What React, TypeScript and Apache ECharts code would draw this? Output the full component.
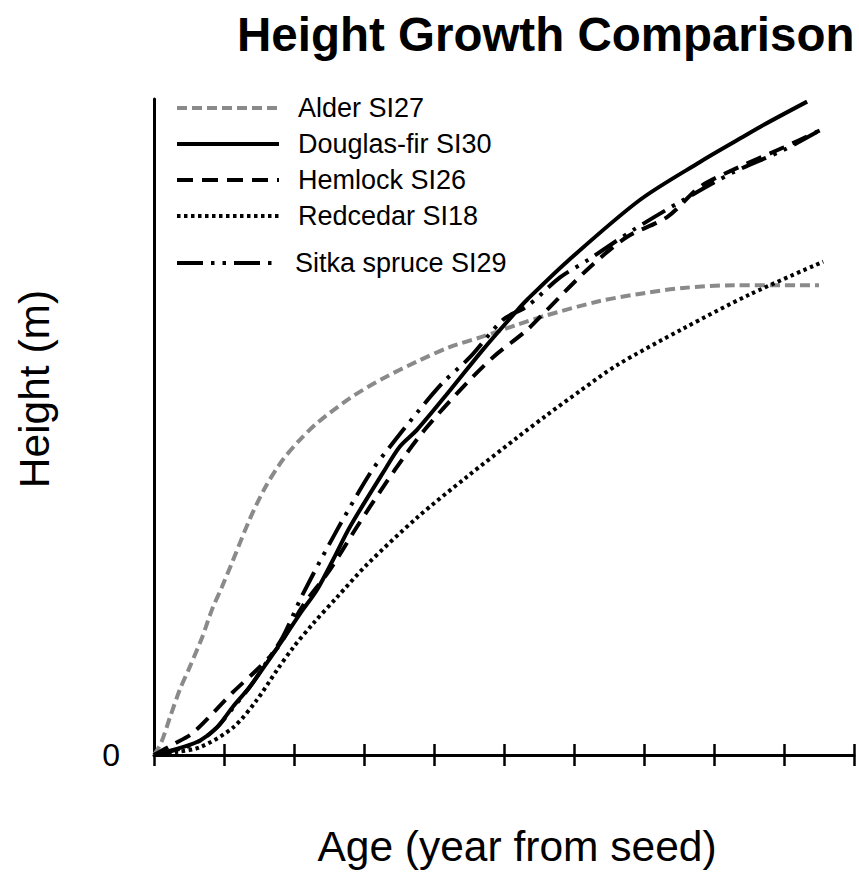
import React, { useEffect, useRef } from "react";
import * as echarts from "echarts";

const titleText = "Height Growth Comparison";
const xAxisName = "Age (year from seed)";
const yAxisName = "Height (m)";
const seriesNames = ["Alder SI27", "Douglas-fir SI30", "Hemlock SI26", "Redcedar SI18", "Sitka spruce SI29"];

const alder: number[][] = [
  [0, 0], [1, 0.9], [2.3, 2.9], [3.7, 5.0], [5.1, 6.7], [6.9, 9.0], [8.3, 11.1], [9.7, 12.8], [11.1, 14.6],
  [13.7, 18.0], [16, 20.5], [18.4, 22.5], [20.8, 24.0], [23.3, 25.3], [28, 27.2], [32.7, 28.7], [37.6, 30.0],
  [42.3, 31.1], [47, 31.9], [51.9, 32.8], [56, 33.5], [63.7, 34.6], [70, 35.2], [75.6, 35.6], [82.7, 35.8], [95, 35.8],
];
const douglasFir: number[][] = [
  [0, 0], [4.1, 0.6], [6.6, 1.1], [9, 2.1], [11.3, 3.7], [13.7, 5.2], [16.1, 7.0], [18.4, 8.8], [20.9, 10.8],
  [23.3, 12.6], [25.6, 14.9], [28, 17.4], [32.7, 21.5], [35.1, 23.5], [37.6, 24.8], [42.3, 27.8], [47, 30.9],
  [51.9, 33.9], [53.3, 34.7], [59, 37.6], [69.4, 42.3], [78, 45.2], [84.1, 47.1], [87, 48.0], [93.3, 49.8],
];
const hemlock: number[][] = [
  [0, 0], [2.7, 0.8], [5.6, 1.7], [11.3, 4.8], [14.7, 6.5], [17.7, 8.2], [21.3, 11.4], [25.1, 14.1], [29, 17.4],
  [32.7, 20.4], [36.1, 23.0], [39, 25.0], [43.7, 27.8], [48.4, 30.3], [53.3, 32.4], [56.1, 33.9], [62.3, 37.2],
  [67.6, 39.5], [73.3, 41.0], [78, 43.3], [82.7, 44.6], [89.9, 46.3], [95.1, 47.6],
];
const redcedar: number[][] = [
  [0, 0], [3, 0.2], [6.6, 0.6], [11.3, 2.1], [14.7, 4.2], [17.6, 6.5], [19.9, 8.2], [22.7, 10.0], [26.1, 12.0],
  [30.4, 14.5], [37.6, 18.1], [44.7, 21.2], [51.9, 24.2], [56.1, 25.9], [61, 27.8], [66.1, 29.7], [75.6, 32.5],
  [85.1, 35.1], [95.6, 37.6],
];
const sitkaSpruce: number[][] = [
  [0, 0], [4, 0.5], [6.6, 1.1], [9, 2.1], [11.3, 3.6], [13.7, 5.2], [16.1, 7.1], [18.4, 9.0], [21.3, 12.3],
  [26.1, 17.1], [30.9, 21.5], [33.7, 23.5], [37.6, 26.1], [41.3, 28.4], [45.1, 30.3], [49.9, 33.2], [53.3, 34.2],
  [58, 36.4], [61.9, 37.7], [68.4, 40.0], [75.6, 42.3], [82.7, 44.4], [89.9, 46.1], [95.1, 47.6],
];

const FONT = "'Liberation Sans', Arial, sans-serif";
const LW = 4;

export default function App() {
  const ref = useRef<HTMLDivElement>(null);
  useEffect(() => {
    if (!ref.current) return;
    const chart = echarts.init(ref.current, null, { renderer: "svg" });
    const mk = (name: string, data: number[][], color: string, type: any) => ({
      name,
      type: "line",
      data,
      showSymbol: false,
      symbol: "none",
      smooth: 0.3,
      lineStyle: { color, width: LW, type, cap: "butt" },
      itemStyle: { color },
      z: 3,
    });
    const legendText = {
      fontFamily: FONT,
      fontSize: 27,
      color: "#000",
      padding: [0, 0, 0, 14],
      lineHeight: 30,
    };
    const legendBase = {
      orient: "vertical",
      left: 170,
      itemWidth: 102,
      itemHeight: 14,
      itemStyle: { opacity: 0 },
      lineStyle: { width: LW },
    };
    chart.setOption({
      animation: false,
      backgroundColor: "#fff",
      textStyle: { fontFamily: FONT },
      title: {
        text: titleText,
        left: 232,
        top: 5,
        textStyle: { fontFamily: FONT, fontSize: 47.5, fontWeight: "bold", color: "#000" },
      },
      legend: [
        {
          ...legendBase,
          data: seriesNames.slice(0, 4),
          top: 88,
          itemGap: 6,
          textStyle: legendText,
        },
        {
          ...legendBase,
          data: seriesNames.slice(4),
          top: 243,
          textStyle: { ...legendText, padding: [0, 0, 0, 11] },
        },
      ],
      grid: { left: 154, right: 5, top: 99, bottom: 131, containLabel: false },
      xAxis: [
        {
          type: "value",
          min: 0,
          max: 100,
          interval: 10,
          name: xAxisName,
          nameLocation: "middle",
          nameGap: 70,
          nameTextStyle: { fontFamily: FONT, fontSize: 42.5, color: "#000", padding: [0, 0, 0, 26] },
          axisLine: { show: true, onZero: false, lineStyle: { color: "#000", width: 3 } },
          axisTick: { show: true, inside: false, length: 11, lineStyle: { color: "#000", width: 2.5 } },
          axisLabel: { show: false },
          splitLine: { show: false },
        },
        {
          type: "value",
          min: 0,
          max: 100,
          interval: 10,
          position: "bottom",
          axisLine: { show: false, onZero: false },
          axisTick: { show: true, inside: true, length: 11, lineStyle: { color: "#000", width: 2.5 } },
          axisLabel: { show: false },
          splitLine: { show: false },
        },
      ],
      yAxis: {
        type: "value",
        min: 0,
        max: 50,
        interval: 50,
        name: yAxisName,
        nameLocation: "middle",
        nameGap: 98,
        nameTextStyle: { fontFamily: FONT, fontSize: 42.5, color: "#000", padding: [0, 0, 0, 76] },
        axisLine: { show: true, onZero: false, lineStyle: { color: "#000", width: 3 } },
        axisTick: { show: false },
        axisLabel: {
          show: true,
          fontFamily: FONT,
          fontSize: 32,
          color: "#000",
          margin: 34,
          formatter: (v: number) => (v === 0 ? "0" : ""),
        },
        splitLine: { show: false },
      },
      series: [
        mk(seriesNames[0], alder, "#8a8a8a", [10, 5]),
        mk(seriesNames[1], douglasFir, "#000", "solid"),
        mk(seriesNames[2], hemlock, "#000", [16, 9]),
        mk(seriesNames[3], redcedar, "#000", [3.5, 3.5]),
        mk(seriesNames[4], sitkaSpruce, "#000", [26, 8, 3.5, 8, 3.5, 8]),
      ],
    });
    return () => chart.dispose();
  }, []);
  return (
    <div
      ref={ref}
      style={{ position: "fixed", left: 0, top: 0, width: 859, height: 886, background: "#fff" }}
    />
  );
}
